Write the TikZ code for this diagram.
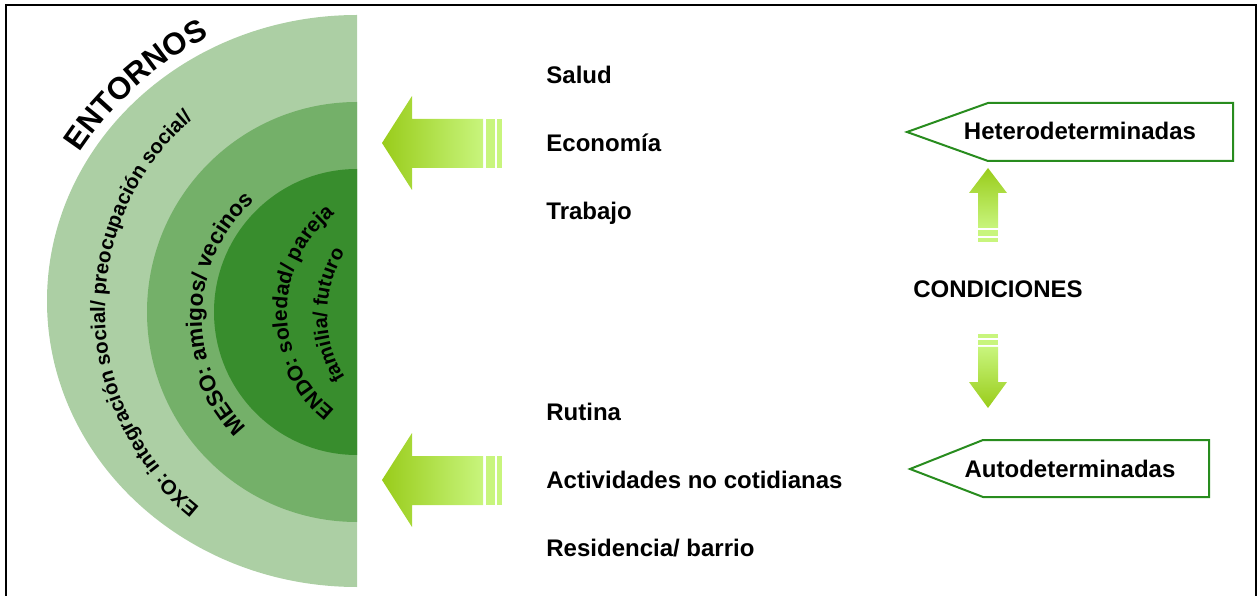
\documentclass[tikz,border=0pt]{standalone}
\usepackage{fontspec}
\setmainfont{Liberation Sans}
\usetikzlibrary{decorations.text}

\definecolor{ringout}{RGB}{172,207,164}
\definecolor{ringmid}{RGB}{116,176,105}
\definecolor{ringin}{RGB}{56,141,45}
\definecolor{arrowdark}{RGB}{153,204,26}
\definecolor{arrowlight}{RGB}{200,245,125}
\definecolor{boxgreen}{RGB}{40,140,30}

\newcommand\ringfont{\bfseries\fontsize{10.5}{12}\selectfont}
\newcommand\exofont{\bfseries\fontsize{10.2}{12}\selectfont}
\newcommand\mesofont{\bfseries\fontsize{11.2}{13}\selectfont}
\newcommand\innerfont{\bfseries\fontsize{10}{12}\selectfont}
\newcommand\bigringfont{\bfseries\fontsize{15.5}{17}\selectfont}

\tikzset{
  itemtext/.style={font=\bfseries\fontsize{12}{14}\selectfont, inner sep=0pt, anchor=base west},
  ringtext/.style={decorate, decoration={text along path, text align=center, text={#1}}},
  boxline/.style={draw=boxgreen, line width=1pt, fill=white},
}

\begin{document}
\begin{tikzpicture}[x=0.5pt, y=0.5pt]
  \useasboundingbox (0,0) rectangle (1258,595);
  % frame
  \draw[line width=1.2pt] (6,-10) -- (6,590) -- (1256,590) -- (1256,-10);

  % rings
  \fill[ringout] (357,580) arc[start angle=90, end angle=270, x radius=310, y radius=286] -- cycle;
  \fill[ringmid] (357,493) arc[start angle=90, end angle=270, radius=210] -- cycle;
  \fill[ringin] (357,426) arc[start angle=90, end angle=270, radius=143] -- cycle;

  % ring texts
  \path[ringtext={|\bigringfont|ENTORNOS}] (370,250) ++(162:348) arc[start angle=162, end angle=102, radius=348];
  \path[ringtext={|\exofont|EXO: integración social/ preocupación social/}] (357,285) ++(252:252) arc[start angle=252, end angle=110, radius=252];
  \path[ringtext={|\mesofont|MESO: amigos/ vecinos}] (358,277) ++(248:156) arc[start angle=248, end angle=108, radius=156];
  \path[ringtext={|\ringfont|ENDO: soledad/ pareja}] (412,283) ++(250:125) arc[start angle=250, end angle=110, radius=125];
  \path[ringtext={|\innerfont|familia/ futuro}] (445,280) ++(215:118) arc[start angle=215, end angle=145, radius=118];

  % big arrows
  \foreach \yc in {452,115} {
    \shade[left color=arrowdark, right color=arrowlight]
      (382,\yc) -- (412,\yc+47) -- (412,\yc+24) -- (483,\yc+24)
      -- (483,\yc-25) -- (412,\yc-25) -- (412,\yc-47) -- cycle;
    \fill[arrowlight] (486,\yc+24) rectangle (495,\yc-25);
    \fill[arrowlight] (497,\yc+24) rectangle (502,\yc-25);
  }

  % small arrows
  \shade[top color=arrowdark, bottom color=arrowlight]
    (988,427) -- (1007,402) -- (998,402) -- (998,367) -- (978,367) -- (978,402) -- (969,402) -- cycle;
  \fill[arrowlight] (978,365) rectangle (998,359);
  \fill[arrowlight] (978,357) rectangle (998,353);
  \shade[top color=arrowlight, bottom color=arrowdark]
    (988,187) -- (1007,213) -- (998,213) -- (998,248) -- (978,248) -- (978,213) -- (969,213) -- cycle;
  \fill[arrowlight] (978,250) rectangle (998,255);
  \fill[arrowlight] (978,257) rectangle (998,261);

  % labels
  \node[itemtext] (salud) at (546,511) {Salud};
  \node[itemtext] (economia) at (546,443) {Economía};
  \node[itemtext] (trabajo) at (546,375) {Trabajo};
  \node[itemtext] (rutina) at (546,175) {Rutina};
  \node[itemtext] (actividades) at (546,107) {Actividades no cotidianas};
  \node[itemtext] (residencia) at (546,39) {Residencia/ barrio};
  \node[itemtext, anchor=base] (condiciones) at (998,297) {CONDICIONES};

  % pointed boxes
  \draw[boxline] (907,463) -- (988,492) -- (1233,492) -- (1233,434) -- (988,434) -- cycle;
  \node[itemtext, anchor=base] (hetero) at (1080,455) {Heterodeterminadas};
  \draw[boxline] (910,126) -- (983,155) -- (1209,155) -- (1209,98) -- (983,98) -- cycle;
  \node[itemtext, anchor=base] (auto) at (1070,118) {Autodeterminadas};
\end{tikzpicture}
\end{document}
